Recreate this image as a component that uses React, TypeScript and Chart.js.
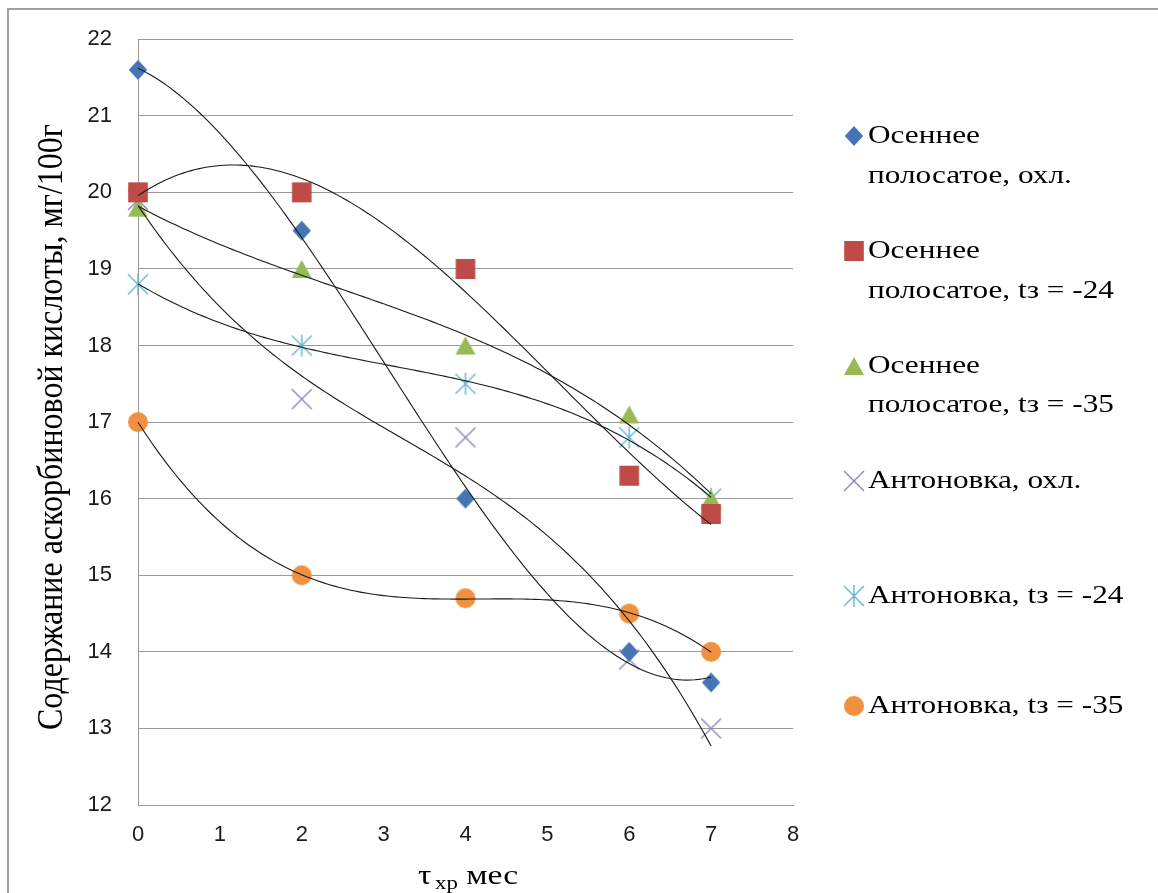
import React, { useEffect, useRef } from "react";
import { Chart, registerables } from "chart.js";

Chart.register(...registerables);

// ---- data ----
const X_MONTHS = [0, 2, 4, 6, 7];
const S1_OSENNEE_OHL = [21.6, 19.5, 16.0, 14.0, 13.6];
const S2_OSENNEE_M24 = [20.0, 20.0, 19.0, 16.3, 15.8];
const S3_OSENNEE_M35 = [19.8, 19.0, 18.0, 17.1, 16.0];
const S4_ANTON_OHL = [19.9, 17.3, 16.8, 13.9, 13.0];
const S5_ANTON_M24 = [18.8, 18.0, 17.5, 16.8, 16.0];
const S6_ANTON_M35 = [17.0, 15.0, 14.7, 14.5, 14.0];

const SERIES_VALUES = [S1_OSENNEE_OHL, S2_OSENNEE_M24, S3_OSENNEE_M35, S4_ANTON_OHL, S5_ANTON_M24, S6_ANTON_M35];
const SERIES_LABELS = [
  ["Осеннее", "полосатое, охл."],
  ["Осеннее", "полосатое, tз = -24"],
  ["Осеннее", "полосатое, tз = -35"],
  ["Антоновка, охл."],
  ["Антоновка, tз = -24"],
  ["Антоновка, tз = -35"],
];
const TREND_DEGREE = [3, 3, 3, 3, 3, 3];

const X_MIN = 0, X_MAX = 8, X_STEP = 1;
const Y_MIN = 12, Y_MAX = 22, Y_STEP = 1;
const Y_TITLE = "Содержание аскорбиновой кислоты, мг/100г";
const X_TITLE_MAIN = "τ";
const X_TITLE_SUB = "хр";
const X_TITLE_REST = " мес";

// ---- styles ----
const MARKERS = ["diamond", "square", "triangle", "x", "star", "circle"];
const COLORS = ["#4575b4", "#be4b48", "#98b954", "#9280b8", "#62b6cd", "#f0913f"];

function polyfit(xs: number[], ys: number[], deg: number): number[] {
  const n = deg + 1;
  const A: number[][] = Array.from({ length: n }, () => new Array(n + 1).fill(0));
  for (let r = 0; r < n; r++) {
    for (let c = 0; c < n; c++) {
      let s = 0;
      for (let i = 0; i < xs.length; i++) s += Math.pow(xs[i], r + c);
      A[r][c] = s;
    }
    let t = 0;
    for (let i = 0; i < xs.length; i++) t += Math.pow(xs[i], r) * ys[i];
    A[r][n] = t;
  }
  for (let i = 0; i < n; i++) {
    let p = i;
    for (let k = i + 1; k < n; k++) if (Math.abs(A[k][i]) > Math.abs(A[p][i])) p = k;
    const tmp = A[i]; A[i] = A[p]; A[p] = tmp;
    for (let k = i + 1; k < n; k++) {
      const f = A[k][i] / A[i][i];
      for (let j = i; j <= n; j++) A[k][j] -= f * A[i][j];
    }
  }
  const coef = new Array(n).fill(0);
  for (let i = n - 1; i >= 0; i--) {
    let s = A[i][n];
    for (let j = i + 1; j < n; j++) s -= A[i][j] * coef[j];
    coef[i] = s / A[i][i];
  }
  return coef;
}

function polyval(coef: number[], x: number) {
  let s = 0;
  for (let i = coef.length - 1; i >= 0; i--) s = s * x + coef[i];
  return s;
}

function drawMarker(ctx: CanvasRenderingContext2D, kind: string, color: string, x: number, y: number) {
  ctx.save();
  ctx.fillStyle = color;
  ctx.strokeStyle = color;
  ctx.beginPath();
  if (kind === "diamond") {
    const w = 9.2, h = 10;
    ctx.moveTo(x, y - h); ctx.lineTo(x + w, y); ctx.lineTo(x, y + h); ctx.lineTo(x - w, y); ctx.closePath(); ctx.fill();
  } else if (kind === "square") {
    const w = 9.8, h = 10;
    ctx.rect(x - w, y - h, 2 * w, 2 * h); ctx.fill();
  } else if (kind === "triangle") {
    const w = 10, h = 9;
    ctx.moveTo(x, y - h); ctx.lineTo(x + w, y + h); ctx.lineTo(x - w, y + h); ctx.closePath(); ctx.fill();
  } else if (kind === "x") {
    const h = 10;
    ctx.lineWidth = 1.4;
    ctx.moveTo(x - h, y - h); ctx.lineTo(x + h, y + h); ctx.moveTo(x + h, y - h); ctx.lineTo(x - h, y + h); ctx.stroke();
  } else if (kind === "star") {
    const h = 10, v = 11;
    ctx.lineWidth = 1.4;
    ctx.moveTo(x - h, y - h); ctx.lineTo(x + h, y + h); ctx.moveTo(x + h, y - h); ctx.lineTo(x - h, y + h);
    ctx.moveTo(x, y - v); ctx.lineTo(x, y + v); ctx.stroke();
  } else {
    ctx.arc(x, y, 10, 0, Math.PI * 2); ctx.fill();
  }
  ctx.restore();
}

function markerImage(kind: string, color: string): HTMLCanvasElement {
  const c = document.createElement("canvas");
  c.width = 28; c.height = 28;
  const ctx = c.getContext("2d")!;
  drawMarker(ctx, kind, color, 14, 14);
  return c;
}

const TEXT_STRETCH = 1.25;
const SERIF = "'Liberation Serif', 'Times New Roman', serif";

const overlayPlugin = {
  id: "overlay",
  afterDraw(chart: any) {
    const ctx: CanvasRenderingContext2D = chart.ctx;
    const area = chart.chartArea;
    ctx.save();
    // outer border (top & left visible)
    ctx.strokeStyle = "#a0a0a0";
    ctx.lineWidth = 2;
    ctx.strokeRect(8, 9, 1200, 1000);

    // y title
    ctx.save();
    ctx.fillStyle = "#000";
    ctx.font = "32px " + SERIF;
    ctx.translate(53, (area.top + area.bottom) / 2 + 5);
    ctx.rotate(-Math.PI / 2);
    ctx.scale(1, 1.1);
    ctx.textAlign = "center";
    ctx.textBaseline = "middle";
    ctx.fillText(Y_TITLE, 0, 0);
    ctx.restore();

    // x title
    ctx.save();
    ctx.fillStyle = "#000";
    ctx.translate(418, 884);
    ctx.scale(1.2, 1);
    ctx.textBaseline = "alphabetic";
    ctx.textAlign = "left";
    ctx.font = "28px " + SERIF;
    ctx.fillText(X_TITLE_MAIN, 0, 0);
    let w = ctx.measureText(X_TITLE_MAIN).width + 3;
    ctx.font = "19px " + SERIF;
    ctx.fillText(X_TITLE_SUB, w, 5);
    w += ctx.measureText(X_TITLE_SUB).width;
    ctx.font = "28px " + SERIF;
    ctx.fillText(X_TITLE_REST, w, 0);
    ctx.restore();

    // legend
    const baselines = [[143, 183], [258, 298], [373, 412], [488], [603], [713]];
    SERIES_LABELS.forEach((lines, i) => {
      const b0 = baselines[i][0];
      drawMarker(ctx, MARKERS[i], COLORS[i], 854, b0 - 7);
      lines.forEach((ln, j) => {
        ctx.save();
        ctx.fillStyle = "#000";
        ctx.font = "25px " + SERIF;
        ctx.translate(868, baselines[i][j]);
        ctx.scale(TEXT_STRETCH, 1);
        ctx.textAlign = "left";
        ctx.textBaseline = "alphabetic";
        ctx.fillText(ln, 0, 0);
        ctx.restore();
      });
    });
    ctx.restore();
  },
};

export default function App() {
  const ref = useRef<HTMLCanvasElement | null>(null);
  useEffect(() => {
    if (!ref.current) return;

    const scatterSets = SERIES_VALUES.map((vals, i) => ({
      type: "scatter" as const,
      label: SERIES_LABELS[i].join(" "),
      data: X_MONTHS.map((x, k) => ({ x, y: vals[k] })),
      pointStyle: markerImage(MARKERS[i], COLORS[i]),
      pointRadius: 12,
      pointBackgroundColor: COLORS[i],
      pointBorderColor: COLORS[i],
      pointBorderWidth: 0,
      showLine: false,
      clip: false as any,
      order: 2,
    }));

    const trendSets = SERIES_VALUES.map((vals, i) => {
      const coef = polyfit(X_MONTHS, vals, TREND_DEGREE[i]);
      const x0 = X_MONTHS[0], x1 = X_MONTHS[X_MONTHS.length - 1];
      const pts: { x: number; y: number }[] = [];
      const N = 140;
      for (let k = 0; k <= N; k++) {
        const x = x0 + ((x1 - x0) * k) / N;
        pts.push({ x, y: polyval(coef, x) });
      }
      return {
        type: "line" as const,
        label: "trend" + i,
        data: pts,
        borderColor: "#1a1a1a",
        borderWidth: 1.1,
        pointRadius: 0,
        fill: false,
        tension: 0,
        clip: false as any,
        order: 1,
      };
    });

    const chart = new Chart(ref.current, {
      type: "scatter",
      data: { datasets: [...trendSets, ...scatterSets] as any },
      options: {
        responsive: false,
        animation: false,
        devicePixelRatio: 1,
        layout: { padding: { top: 37, right: 365, left: 0, bottom: 0 } },
        plugins: { legend: { display: false }, tooltip: { enabled: false } },
        scales: {
          x: {
            type: "linear",
            min: X_MIN,
            max: X_MAX,
            afterFit: (s: any) => { s.height = 88; },
            ticks: {
              stepSize: X_STEP,
              padding: 17,
              color: "#1a1a1a",
              font: { family: "'Liberation Sans', Arial, sans-serif", size: 22 },
            },
            grid: { display: false, drawTicks: false },
            border: { display: true, color: "#9a9a9a", width: 1 },
          },
          y: {
            type: "linear",
            min: Y_MIN,
            max: Y_MAX,
            afterFit: (s: any) => { s.width = 138; },
            ticks: {
              stepSize: Y_STEP,
              padding: 26,
              color: "#1a1a1a",
              font: { family: "'Liberation Sans', Arial, sans-serif", size: 22 },
            },
            grid: { color: "#9a9a9a", lineWidth: 1, drawTicks: false },
            border: { display: true, color: "#9a9a9a", width: 1 },
          },
        },
      },
      plugins: [overlayPlugin],
    });
    return () => chart.destroy();
  }, []);

  return (
    <div style={{ position: "fixed", left: 0, top: 0, width: 1158, height: 893, background: "#fff" }}>
      <canvas ref={ref} width={1158} height={893} style={{ display: "block", width: 1158, height: 893 }} />
    </div>
  );
}
